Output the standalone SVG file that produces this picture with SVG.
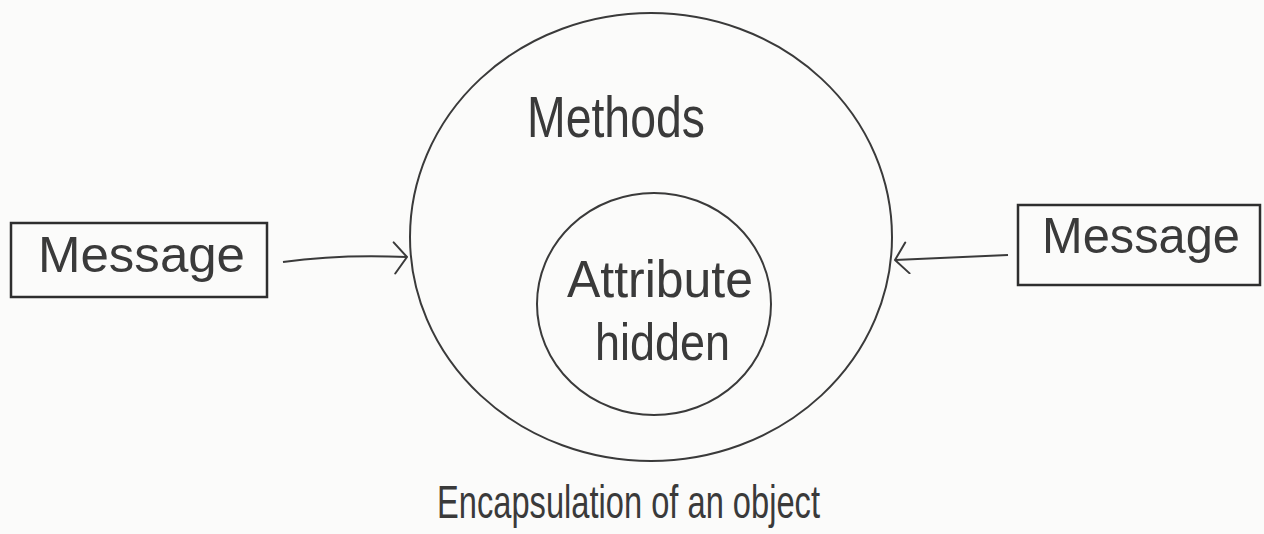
<svg xmlns="http://www.w3.org/2000/svg" width="1264" height="534" viewBox="0 0 1264 534">
  <defs>
    <marker id="open" viewBox="0 0 20 34" refX="18" refY="15" markerWidth="20" markerHeight="34" markerUnits="userSpaceOnUse" orient="auto">
      <path d="M4,1 L18,15 L7,32" fill="none" stroke="#3a3a3a" stroke-width="2" stroke-linecap="round" stroke-linejoin="round"/>
    </marker>
  </defs>
  <style>
    .ln { fill: none; stroke: #3a3a3a; stroke-width: 2; }
    .box { fill: none; stroke: #2e2e2e; stroke-width: 2.5; }
    .t { font-family: "Liberation Sans", "DejaVu Sans", sans-serif; fill: #3a3a3a; }
  </style>
  <rect width="1264" height="534" fill="#fbfbfa"/>

  <g id="outer-circle">
    <ellipse class="ln" cx="651" cy="237" rx="241" ry="224"/>
    <text class="t" x="527" y="137" font-size="58" textLength="178" lengthAdjust="spacingAndGlyphs">Methods</text>
  </g>

  <g id="inner-circle">
    <ellipse class="ln" cx="654" cy="304" rx="117" ry="111"/>
    <text class="t" x="567" y="297" font-size="52" textLength="186" lengthAdjust="spacingAndGlyphs">Attribute</text>
    <text class="t" x="595" y="360" font-size="52" textLength="135" lengthAdjust="spacingAndGlyphs">hidden</text>
  </g>

  <g id="message-left">
    <rect class="box" x="11" y="223" width="256" height="74"/>
    <text class="t" x="38" y="272" font-size="50" textLength="207" lengthAdjust="spacingAndGlyphs">Message</text>
  </g>

  <g id="message-right">
    <rect class="box" x="1018" y="205" width="242" height="80"/>
    <text class="t" x="1042" y="253" font-size="50" textLength="198" lengthAdjust="spacingAndGlyphs">Message</text>
  </g>

  <g id="connectors">
    <path class="ln" d="M283,262 Q340,254 407,257" marker-end="url(#open)"/>
    <path class="ln" d="M1008,255 L895,260" marker-end="url(#open)"/>
  </g>

  <g id="caption">
    <text class="t" x="437" y="518" font-size="47" textLength="383" lengthAdjust="spacingAndGlyphs">Encapsulation of an object</text>
  </g>
</svg>
